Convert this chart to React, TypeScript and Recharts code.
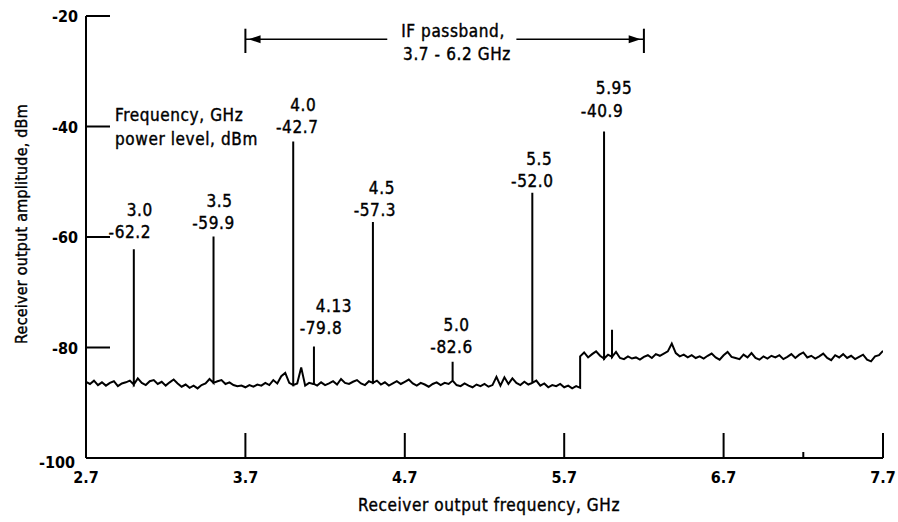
import React from 'react';
import { LineChart, Line, XAxis, YAxis, ReferenceLine, ReferenceDot } from 'recharts';

const FONT = "'DejaVu Sans Condensed', 'Liberation Sans Narrow', sans-serif";

// axis ticks
const xTicks = [2.7, 3.7, 4.7, 5.7, 6.7, 7.2, 7.7];
const xTickLabels = ['2.7', '3.7', '4.7', '5.7', '6.7', '', '7.7'];
const yTicks = [-100, -80, -60, -40, -20];

// receiver noise floor, read every 0.025 GHz
const floorStep = 0.025;
const lowFloorStart = 2.7;
const lowFloor = [
  -86.2, -86.6, -86.0, -86.8, -86.3, -86.9, -86.4, -86.1, -87.0, -86.5,
  -86.3, -86.0, -86.7, -85.6, -86.4, -86.8, -86.1, -85.9, -86.6, -86.2,
  -86.9, -86.3, -85.8, -86.5, -87.1, -86.7, -87.3, -86.9, -87.4, -86.8,
  -86.5, -85.7, -86.4, -86.1, -85.9, -86.6, -86.3, -86.8, -87.0, -86.9,
  -87.2, -86.8, -87.1, -86.7, -86.9, -86.4, -86.8, -85.9, -86.5, -85.2,
  -84.6, -86.4, -86.8, -86.5, -83.6, -86.9, -86.4, -86.6, -86.9, -86.3,
  -86.8, -86.5, -86.1, -86.7, -85.7, -86.4, -86.6, -86.2, -85.9, -86.5,
  -86.8, -86.1, -86.4, -86.0, -86.7, -86.3, -86.9, -86.5, -86.1, -86.6,
  -86.2, -85.8, -86.5, -86.9, -86.4, -86.7, -87.1, -86.6, -86.3, -86.8,
  -86.4, -86.6, -86.0, -86.8, -87.0, -86.5, -86.9, -87.2, -86.7, -87.0,
  -86.6, -87.1, -86.8, -85.3, -86.9, -85.4, -86.6, -85.6, -86.4, -86.8,
  -86.2, -86.7, -86.4, -86.0, -86.9, -86.5, -87.2, -86.8, -87.0, -86.6,
  -87.2, -86.9, -87.4, -87.0, -87.3,
];
const highFloorStart = 5.8;
const highFloor = [
  -81.6, -80.9, -81.8, -81.2, -80.7, -81.5, -82.0, -81.3, -81.7, -80.8,
  -81.9, -82.1, -81.6, -82.0, -81.8, -82.2, -81.7, -81.4, -81.9, -81.2,
  -81.5, -81.1, -80.7, -79.3, -81.0, -81.6, -81.3, -81.8, -81.4, -81.9,
  -81.6, -82.0, -81.5, -81.1, -81.8, -82.2, -81.4, -80.8, -81.7, -81.9,
  -82.1, -81.3, -81.8, -81.0, -81.9, -82.2, -81.6, -82.0, -81.5, -81.8,
  -81.4, -82.1, -81.7, -81.2, -81.9, -81.3, -80.9, -81.8, -81.5, -82.0,
  -81.6, -81.1, -81.9, -82.3, -81.4, -81.8, -81.2, -81.9, -81.5, -82.1,
  -81.7, -81.3, -82.2, -82.5, -81.6, -81.4, -80.6,
];

// discrete spurious responses
const spikeFreqs = [3.0, 3.5, 4.0, 4.13, 4.5, 5.0, 5.5, 5.95, 6.0];
const spikePeaks = [-62.2, -59.9, -42.7, -79.8, -57.3, -82.6, -52.0, -40.9, -76.8];
const spikeFreqLabels = ['3.0', '3.5', '4.0', '4.13', '4.5', '5.0', '5.5', '5.95', ''];

// label placement relative to the peak (px): freq dx, freq dy, level dx, level dy
const labelOffsets = [
  [6, -39, -4, -17],
  [6, -35, 0, -13],
  [10, -36, 4, -14],
  [20, -40, 7, -18],
  [9, -34, 2, -12],
  [4, -37, -1, -15],
  [7, -34, 0, -12],
  [10, -43, -2, -20],
  [0, 0, 0, 0],
];

const passbandStart = 3.7;
const passbandEnd = 6.2;

type Pt = { freq: number; dbm: number };

const buildData = (): Pt[] => {
  const pts: Pt[] = [];
  lowFloor.forEach((v, i) => pts.push({ freq: +(lowFloorStart + i * floorStep).toFixed(3), dbm: v }));
  highFloor.forEach((v, i) => pts.push({ freq: +(highFloorStart + i * floorStep).toFixed(3), dbm: v }));
  const floorPts = pts.slice();
  spikeFreqs.forEach((f, k) => {
    // base of the spike = nearest floor sample
    let best = floorPts[0];
    floorPts.forEach((p) => {
      if (Math.abs(p.freq - f) < Math.abs(best.freq - f)) best = p;
    });
    pts.push({ freq: f + 1e-6, dbm: best.dbm });
    pts.push({ freq: f + 2e-6, dbm: spikePeaks[k] });
    pts.push({ freq: f + 3e-6, dbm: best.dbm });
  });
  return pts.sort((a, b) => a.freq - b.freq);
};

const data = buildData();

const txt = { fontFamily: FONT, fontSize: 16, fill: '#000', fontWeight: 'bold' as const };
const note = { ...txt, fontWeight: 'normal' as const, fontSize: 17, letterSpacing: 0.6, stroke: '#000', strokeWidth: 0.4 };

const YTick = (props: any) => {
  const { x, y, payload } = props;
  const v = payload.value;
  return (
    <g>
      {v !== -100 && <line x1={x + 8} x2={x + 32} y1={y} y2={y} stroke="#000" strokeWidth={2} />}
      <text x={v === -100 ? x - 3 : x} y={y} dy={v === -100 ? 10 : 6} textAnchor="end" {...txt}>
        {v}
      </text>
    </g>
  );
};

const XTick = (props: any) => {
  const { x, y, payload } = props;
  const i = xTicks.indexOf(payload.value);
  const label = xTickLabels[i];
  const len = label === '' ? 6 : payload.value === 2.7 ? 0 : 25;
  return (
    <g>
      {len > 0 && <line x1={x} x2={x} y1={y - 8} y2={y - 8 - len} stroke="#000" strokeWidth={2} />}
      <text x={x} y={y} dy={17} textAnchor="middle" {...txt}>
        {label}
      </text>
    </g>
  );
};

const PeakLabel = (k: number) => (p: any) => {
  const [fdx, fdy, ldx, ldy] = labelOffsets[k];
  if (!spikeFreqLabels[k]) return <g />;
  return (
    <g>
      <text x={p.cx + fdx} y={p.cy + fdy} dy={6} textAnchor="middle" {...note}>
        {spikeFreqLabels[k]}
      </text>
      <text x={p.cx + ldx} y={p.cy + ldy} dy={6} textAnchor="middle" {...note}>
        {spikePeaks[k].toFixed(1)}
      </text>
    </g>
  );
};

const ArrowHead = (dir: number) => (p: any) => (
  <path
    d={`M${p.cx},${p.cy} L${p.cx - dir * 12},${p.cy - 4} L${p.cx - dir * 12},${p.cy + 4} Z`}
    fill="#000"
  />
);

const App: React.FC = () => {
  return (
    <div style={{ position: 'absolute', left: 0, top: 0, width: 898, height: 522, background: '#fff' }}>
      <LineChart
        width={898}
        height={522}
        data={data}
        margin={{ top: 16, right: 15, bottom: 34, left: 26 }}
      >
        <XAxis
          dataKey="freq"
          type="number"
          domain={[2.7, 7.7]}
          ticks={xTicks}
          interval={0}
          height={30}
          tickLine={false}
          axisLine={{ stroke: '#000', strokeWidth: 2 }}
          tick={<XTick />}
          allowDataOverflow
        />
        <YAxis
          type="number"
          domain={[-100, -20]}
          ticks={yTicks}
          interval={0}
          width={60}
          tickLine={false}
          axisLine={{ stroke: '#000', strokeWidth: 2 }}
          tick={<YTick />}
          allowDataOverflow
        />
        <Line
          type="linear"
          dataKey="dbm"
          stroke="#000"
          strokeWidth={2}
          dot={false}
          isAnimationActive={false}
        />
        {/* IF passband bracket */}
        <ReferenceLine segment={[{ x: passbandStart, y: -22.3 }, { x: passbandStart, y: -26.7 }]} stroke="#000" strokeWidth={2} />
        <ReferenceLine segment={[{ x: passbandEnd, y: -22.3 }, { x: passbandEnd, y: -26.7 }]} stroke="#000" strokeWidth={2} />
        <ReferenceLine segment={[{ x: passbandStart, y: -24.2 }, { x: 4.59, y: -24.2 }]} stroke="#000" strokeWidth={1.5} />
        <ReferenceLine segment={[{ x: 5.4, y: -24.2 }, { x: passbandEnd, y: -24.2 }]} stroke="#000" strokeWidth={1.5} />
        <ReferenceDot x={passbandStart + 0.02} y={-24.2} r={0} shape={ArrowHead(-1)} />
        <ReferenceDot x={passbandEnd - 0.02} y={-24.2} r={0} shape={ArrowHead(1)} />
        {spikeFreqs.map((f, k) => (
          <ReferenceDot key={k} x={f} y={spikePeaks[k]} r={0} shape={PeakLabel(k)} />
        ))}
      </LineChart>
      <svg
        width={898}
        height={522}
        style={{ position: 'absolute', left: 0, top: 0, pointerEvents: 'none' }}
      >
        <text x={453} y={37} textAnchor="middle" {...note}>IF passband,</text>
        <text x={457} y={60} textAnchor="middle" {...note}>3.7 - 6.2 GHz</text>
        <text x={115} y={121} {...note}>Frequency, GHz</text>
        <text x={115} y={145} {...note}>power level, dBm</text>
        <text x={489} y={511} textAnchor="middle" {...note}>Receiver output frequency, GHz</text>
        <text
          x={0}
          y={0}
          textAnchor="middle"
          transform="translate(27,224) rotate(-90)"
          {...note}
          fontSize={16}
          letterSpacing={0.2}
        >
          Receiver output amplitude, dBm
        </text>
      </svg>
    </div>
  );
};

export default App;
